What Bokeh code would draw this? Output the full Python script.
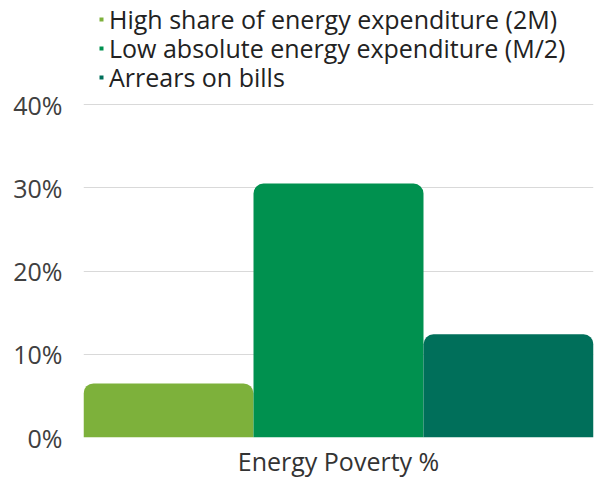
from bokeh.plotting import figure
from bokeh.models import (ColumnDataSource, FactorRange, Range1d, FixedTicker,
                          PrintfTickFormatter, Legend, LegendItem)
from bokeh.transform import dodge
from bokeh.embed import file_html
from bokeh.resources import INLINE

# ---- data ----
categories = ["Energy Poverty %"]
series_names = ["High share of energy expenditure (2M)",
                "Low absolute energy expenditure (M/2)",
                "Arrears on bills"]
series_values = [6.5, 30.5, 12.4]
series_colors = ["#7db13b", "#00914f", "#006f5a"]
y_ticks = [0, 10, 20, 30, 40]

FONT = "Open Sans"
FS = "25px"
FRAME_H = 437
ROW_H = 33          # measured legend row height
ROW_TOP = 19        # centre of first legend row (px from top)
ROW_PITCH = 29

p = figure(width=595, height=483, output_backend="svg", toolbar_location=None,
           x_range=FactorRange(factors=categories, range_padding=0),
           y_range=Range1d(0, 40 * FRAME_H / 333),
           min_border_left=83, min_border_right=2, min_border_top=0,
           min_border_bottom=483 - FRAME_H)
p.outline_line_color = None
p.background_fill_color = "white"
p.border_fill_color = "white"

n = len(series_values)
w = 1.0 / n
for i, (name, val, col) in enumerate(zip(series_names, series_values, series_colors)):
    src = ColumnDataSource(dict(x=categories, top=[val]))
    off = (i - (n - 1) / 2) * w
    p.vbar(x=dodge("x", off, range=p.x_range), top="top", width=w, bottom=0,
           source=src, fill_color=col, line_color=None,
           border_radius=(10, 10, 0, 0))
    proxy = p.scatter(x=categories, y=[float("nan")], marker="square",
                      fill_color=col, line_color=None)
    centre = ROW_TOP + ROW_PITCH * i
    leg = Legend(items=[LegendItem(label=name, renderers=[proxy])],
                 location=(13, FRAME_H - (centre + ROW_H / 2)),
                 orientation="vertical",
                 glyph_width=10, glyph_height=24, label_height=24, spacing=0,
                 padding=0, margin=0, label_standoff=3,
                 label_text_font=FONT, label_text_font_size=FS,
                 label_text_color="#222222",
                 border_line_color=None, background_fill_alpha=0)
    p.add_layout(leg, "center")

p.yaxis.ticker = FixedTicker(ticks=y_ticks)
p.yaxis.formatter = PrintfTickFormatter(format="%d%%")
p.yaxis.axis_line_color = None
p.yaxis.major_tick_line_color = None
p.yaxis.minor_tick_line_color = None
p.yaxis.major_tick_out = 0
p.yaxis.major_tick_in = 0
p.yaxis.minor_tick_out = 0
p.yaxis.major_label_standoff = 21
p.yaxis.major_label_text_font = FONT
p.yaxis.major_label_text_font_size = FS
p.yaxis.major_label_text_color = "#404040"

p.xaxis.axis_line_color = None
p.xaxis.major_tick_line_color = None
p.xaxis.minor_tick_line_color = None
p.xaxis.major_tick_out = 0
p.xaxis.major_tick_in = 0
p.xaxis.minor_tick_out = 0
p.xaxis.major_label_standoff = 6
p.xaxis.major_label_text_font = FONT
p.xaxis.major_label_text_font_size = FS
p.xaxis.major_label_text_color = "#333333"

p.xgrid.grid_line_color = None
p.ygrid.ticker = FixedTicker(ticks=y_ticks)
p.ygrid.grid_line_color = "#d9d9d9"
p.ygrid.grid_line_width = 1

open("out.html", "w").write(file_html(p, INLINE))
